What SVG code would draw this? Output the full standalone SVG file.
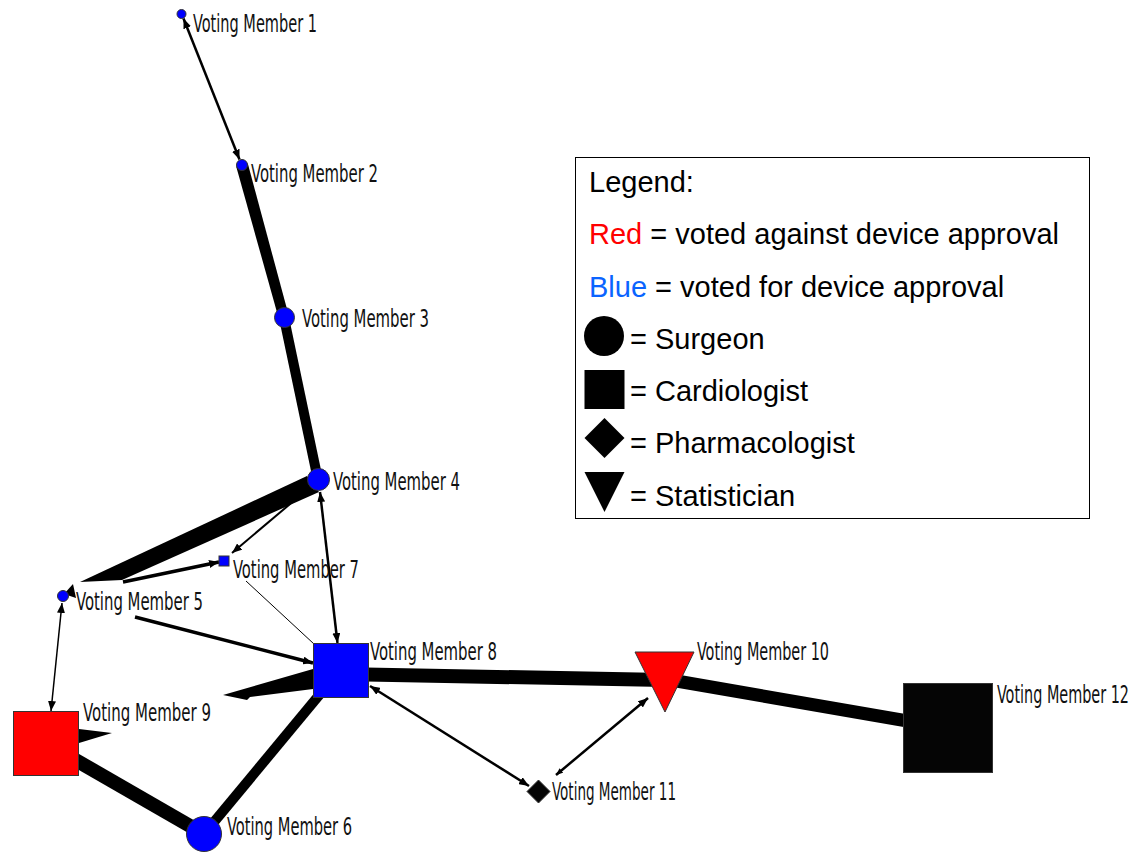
<svg xmlns="http://www.w3.org/2000/svg" width="1147" height="852" viewBox="0 0 1147 852">
<style>
.lbl{font-family:"DejaVu Sans Condensed","DejaVu Sans",sans-serif;font-size:24px;fill:#111}
.lg{font-family:"Liberation Sans",Arial,sans-serif;font-size:29px;fill:#000}
.e{stroke:#000;fill:none}
.blue{fill:#0000ff;stroke:#333;stroke-width:1}
.red{fill:#ff0000;stroke:#333;stroke-width:1}
.blk{fill:#050505;stroke:#333;stroke-width:1}
</style>
<defs>
<marker id="ah" viewBox="0 0 10 8" refX="10" refY="4" markerWidth="10" markerHeight="8" markerUnits="userSpaceOnUse" orient="auto-start-reverse"><path d="M0,0 L10,4 L0,8 z" fill="#000"/></marker>
<marker id="ahs" viewBox="0 0 10 8" refX="10" refY="4" markerWidth="7" markerHeight="6" markerUnits="userSpaceOnUse" orient="auto-start-reverse"><path d="M0,0 L10,4 L0,8 z" fill="#000"/></marker>
</defs>
<rect width="1147" height="852" fill="#fff"/>
<g id="connectors">
<line class="e" x1="183.5" y1="18.5" x2="239.5" y2="159.5" stroke-width="2.5" marker-start="url(#ah)" marker-end="url(#ah)"/>
<polygon points="236.2,166.6 247.8,163.4 289,316.6 279,319.4" fill="#000"/>
<line class="e" x1="284" y1="318" x2="318" y2="480" stroke-width="10"/>
<polygon points="80,582 307,476 319,492 122,580" fill="#000"/>
<polygon points="64,594 73,584 76,598" fill="#000"/>
<line class="e" x1="123" y1="582" x2="219" y2="562" stroke-width="3.5" marker-end="url(#ah)"/>
<line class="e" x1="232" y1="553" x2="309" y2="488" stroke-width="2" marker-start="url(#ah)" marker-end="url(#ah)"/>
<line class="e" x1="246" y1="581" x2="314" y2="644" stroke-width="1"/>
<line class="e" x1="320" y1="492" x2="337.5" y2="643" stroke-width="2.5" marker-start="url(#ah)" marker-end="url(#ah)"/>
<line class="e" x1="135" y1="617" x2="313" y2="663" stroke-width="3.5" marker-end="url(#ah)"/>
<line class="e" x1="62" y1="603" x2="51" y2="711" stroke-width="1.5" marker-start="url(#ah)" marker-end="url(#ah)"/>
<polygon points="313,669 223,695 247,700 250,697 313,689" fill="#000"/>
<polygon points="79,729 112,733 79,743" fill="#000"/>
<line class="e" x1="46" y1="743" x2="204" y2="834" stroke-width="14"/>
<line class="e" x1="204" y1="834" x2="340" y2="670" stroke-width="10"/>
<line class="e" x1="340" y1="674" x2="665" y2="680" stroke-width="14"/>
<line class="e" x1="665" y1="679" x2="948" y2="728" stroke-width="13"/>
<line class="e" x1="370" y1="686" x2="529" y2="786" stroke-width="2.5" marker-start="url(#ah)" marker-end="url(#ah)"/>
<line class="e" x1="556" y1="775" x2="648" y2="698" stroke-width="2.5" marker-start="url(#ahs)" marker-end="url(#ah)"/>
</g>
<g id="vm1"><circle class="blue" cx="181.5" cy="14" r="4.5"/><text class="lbl" x="193" y="32" textLength="124" lengthAdjust="spacingAndGlyphs">Voting Member 1</text></g>
<g id="vm2"><circle class="blue" cx="242" cy="165" r="5.5"/><text class="lbl" x="251" y="182" textLength="127" lengthAdjust="spacingAndGlyphs">Voting Member 2</text></g>
<g id="vm3"><circle class="blue" cx="284.5" cy="317.5" r="10"/><text class="lbl" x="302" y="327" textLength="127" lengthAdjust="spacingAndGlyphs">Voting Member 3</text></g>
<g id="vm4"><circle class="blue" cx="318.5" cy="479.5" r="11"/><text class="lbl" x="333" y="490" textLength="127" lengthAdjust="spacingAndGlyphs">Voting Member 4</text></g>
<g id="vm5"><circle class="blue" cx="63" cy="596" r="5.5"/><text class="lbl" x="76" y="610" textLength="127" lengthAdjust="spacingAndGlyphs">Voting Member 5</text></g>
<g id="vm6"><circle class="blue" cx="204" cy="834" r="17.5"/><text class="lbl" x="227" y="835" textLength="125" lengthAdjust="spacingAndGlyphs">Voting Member 6</text></g>
<g id="vm7"><rect class="blue" x="219" y="556" width="10" height="10"/><text class="lbl" x="233" y="578" textLength="126" lengthAdjust="spacingAndGlyphs">Voting Member 7</text></g>
<g id="vm8"><rect class="blue" x="313.5" y="643.5" width="55" height="54"/><text class="lbl" x="370" y="660" textLength="127" lengthAdjust="spacingAndGlyphs">Voting Member 8</text></g>
<g id="vm9"><rect class="red" x="13.5" y="711.5" width="65" height="64"/><text class="lbl" x="83" y="721" textLength="128" lengthAdjust="spacingAndGlyphs">Voting Member 9</text></g>
<g id="vm10"><polygon class="red" points="635,652 694,652 665,712"/><text class="lbl" x="697" y="660" textLength="132" lengthAdjust="spacingAndGlyphs">Voting Member 10</text></g>
<g id="vm11"><polygon class="blk" points="538.5,780 550,791.5 538.5,803 527,791.5"/><text class="lbl" x="552" y="800" textLength="124" lengthAdjust="spacingAndGlyphs">Voting Member 11</text></g>
<g id="vm12"><rect class="blk" x="903.5" y="683.5" width="89" height="89"/><text class="lbl" x="997" y="703" textLength="132" lengthAdjust="spacingAndGlyphs">Voting Member 12</text></g>
<g id="legend">
<rect x="575.5" y="157.5" width="514" height="361" fill="#fff" stroke="#000" stroke-width="1"/>
<text class="lg" x="589" y="192">Legend:</text>
<text class="lg" x="589" y="244"><tspan fill="#ff0000">Red</tspan> = voted against device approval</text>
<text class="lg" x="589" y="297"><tspan fill="#0a64ff">Blue</tspan> = voted for device approval</text>
<circle cx="604" cy="336" r="20" fill="#000"/>
<text class="lg" x="630" y="349">= Surgeon</text>
<rect x="584.5" y="370" width="40" height="39" fill="#000"/>
<text class="lg" x="630" y="401">= Cardiologist</text>
<polygon points="604.5,418 624.5,438 604.5,458 584.5,438" fill="#000"/>
<text class="lg" x="630" y="453">= Pharmacologist</text>
<polygon points="584.5,472 624.5,472 604.5,512" fill="#000"/>
<text class="lg" x="630" y="506">= Statistician</text>
</g>
</svg>
